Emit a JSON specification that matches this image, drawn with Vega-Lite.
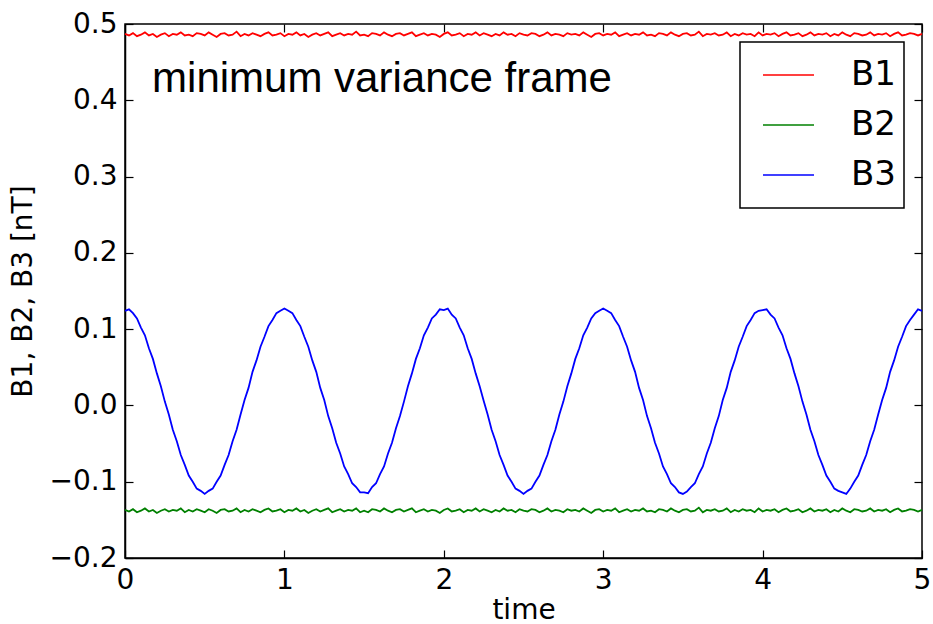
{
"$schema": "https://vega.github.io/schema/vega-lite/v6.json",
"width": 797, "height": 534,
"autosize": {"type": "none"},
"padding": {"left": 125, "top": 24, "right": 11, "bottom": 66},
"background": "white",
"config": {
  "view": {"stroke": "black", "strokeWidth": 1.5},
  "axis": {"grid": false, "domainColor": "black", "domainWidth": 1.5, "tickColor": "black", "tickSize": -8, "tickWidth": 1.2,
    "labelFont": "DejaVu Sans", "labelFontSize": 28, "labelColor": "black", "labelFlush": false, "labelOverlap": false,
    "titleFont": "DejaVu Sans", "titleFontSize": 28, "titleFontWeight": "normal", "titleColor": "black"},
  "legend": {"strokeColor": "black", "strokeWidth": 1.5, "fillColor": "white", "padding": 8, "cornerRadius": 0,
    "symbolType": "stroke", "symbolSize": 2600, "symbolStrokeWidth": 1.5, "symbolOffset": 14, "clipHeight": 50, "labelFont": "DejaVu Sans", "labelFontSize": 34,
    "labelColor": "black", "labelOffset": 36, "rowPadding": 0, "orient": "top-right", "offset": 18}
},
"layer": [
{
  "data": {"values": [
{"t":0,"B1":0.487,"B2":-0.137,"B3":0.124},
{"t":0.025,"B1":0.485,"B2":-0.139,"B3":0.126},
{"t":0.05,"B1":0.488,"B2":-0.136,"B3":0.121},
{"t":0.075,"B1":0.484,"B2":-0.140,"B3":0.114},
{"t":0.1,"B1":0.486,"B2":-0.138,"B3":0.102},
{"t":0.125,"B1":0.489,"B2":-0.135,"B3":0.092},
{"t":0.15,"B1":0.485,"B2":-0.139,"B3":0.075},
{"t":0.175,"B1":0.487,"B2":-0.137,"B3":0.061},
{"t":0.2,"B1":0.483,"B2":-0.141,"B3":0.042},
{"t":0.225,"B1":0.486,"B2":-0.138,"B3":0.025},
{"t":0.25,"B1":0.488,"B2":-0.136,"B3":0.005},
{"t":0.275,"B1":0.484,"B2":-0.139,"B3":-0.012},
{"t":0.3,"B1":0.487,"B2":-0.137,"B3":-0.032},
{"t":0.325,"B1":0.486,"B2":-0.138,"B3":-0.047},
{"t":0.35,"B1":0.489,"B2":-0.135,"B3":-0.065},
{"t":0.375,"B1":0.485,"B2":-0.140,"B3":-0.078},
{"t":0.4,"B1":0.486,"B2":-0.137,"B3":-0.092},
{"t":0.425,"B1":0.484,"B2":-0.139,"B3":-0.100},
{"t":0.45,"B1":0.488,"B2":-0.136,"B3":-0.109},
{"t":0.475,"B1":0.487,"B2":-0.138,"B3":-0.112},
{"t":0.5,"B1":0.485,"B2":-0.140,"B3":-0.116},
{"t":0.525,"B1":0.489,"B2":-0.136,"B3":-0.112},
{"t":0.55,"B1":0.486,"B2":-0.138,"B3":-0.109},
{"t":0.575,"B1":0.483,"B2":-0.141,"B3":-0.100},
{"t":0.6,"B1":0.487,"B2":-0.137,"B3":-0.092},
{"t":0.625,"B1":0.488,"B2":-0.136,"B3":-0.078},
{"t":0.65,"B1":0.485,"B2":-0.139,"B3":-0.065},
{"t":0.675,"B1":0.486,"B2":-0.138,"B3":-0.047},
{"t":0.7,"B1":0.490,"B2":-0.135,"B3":-0.032},
{"t":0.725,"B1":0.484,"B2":-0.140,"B3":-0.012},
{"t":0.75,"B1":0.487,"B2":-0.137,"B3":0.007},
{"t":0.775,"B1":0.485,"B2":-0.139,"B3":0.023},
{"t":0.8,"B1":0.488,"B2":-0.136,"B3":0.044},
{"t":0.825,"B1":0.486,"B2":-0.138,"B3":0.059},
{"t":0.85,"B1":0.484,"B2":-0.140,"B3":0.077},
{"t":0.875,"B1":0.487,"B2":-0.137,"B3":0.090},
{"t":0.9,"B1":0.489,"B2":-0.135,"B3":0.104},
{"t":0.925,"B1":0.485,"B2":-0.139,"B3":0.112},
{"t":0.95,"B1":0.486,"B2":-0.138,"B3":0.121},
{"t":0.975,"B1":0.488,"B2":-0.136,"B3":0.124},
{"t":1,"B1":0.484,"B2":-0.140,"B3":0.127},
{"t":1.025,"B1":0.487,"B2":-0.137,"B3":0.124},
{"t":1.05,"B1":0.486,"B2":-0.138,"B3":0.121},
{"t":1.075,"B1":0.489,"B2":-0.135,"B3":0.112},
{"t":1.1,"B1":0.485,"B2":-0.139,"B3":0.104},
{"t":1.125,"B1":0.487,"B2":-0.137,"B3":0.090},
{"t":1.15,"B1":0.483,"B2":-0.141,"B3":0.077},
{"t":1.175,"B1":0.486,"B2":-0.138,"B3":0.059},
{"t":1.2,"B1":0.488,"B2":-0.136,"B3":0.044},
{"t":1.225,"B1":0.485,"B2":-0.139,"B3":0.023},
{"t":1.25,"B1":0.487,"B2":-0.137,"B3":0.007},
{"t":1.275,"B1":0.489,"B2":-0.135,"B3":-0.014},
{"t":1.3,"B1":0.484,"B2":-0.140,"B3":-0.030},
{"t":1.325,"B1":0.486,"B2":-0.138,"B3":-0.049},
{"t":1.35,"B1":0.488,"B2":-0.136,"B3":-0.063},
{"t":1.375,"B1":0.485,"B2":-0.139,"B3":-0.080},
{"t":1.4,"B1":0.487,"B2":-0.137,"B3":-0.090},
{"t":1.425,"B1":0.486,"B2":-0.138,"B3":-0.102},
{"t":1.45,"B1":0.490,"B2":-0.135,"B3":-0.107},
{"t":1.475,"B1":0.485,"B2":-0.140,"B3":-0.114},
{"t":1.5,"B1":0.486,"B2":-0.138,"B3":-0.114},
{"t":1.525,"B1":0.484,"B2":-0.140,"B3":-0.115},
{"t":1.55,"B1":0.488,"B2":-0.136,"B3":-0.107},
{"t":1.575,"B1":0.487,"B2":-0.137,"B3":-0.102},
{"t":1.6,"B1":0.485,"B2":-0.139,"B3":-0.090},
{"t":1.625,"B1":0.489,"B2":-0.135,"B3":-0.080},
{"t":1.65,"B1":0.486,"B2":-0.138,"B3":-0.063},
{"t":1.675,"B1":0.484,"B2":-0.140,"B3":-0.049},
{"t":1.7,"B1":0.487,"B2":-0.137,"B3":-0.030},
{"t":1.725,"B1":0.488,"B2":-0.136,"B3":-0.014},
{"t":1.75,"B1":0.485,"B2":-0.139,"B3":0.005},
{"t":1.775,"B1":0.487,"B2":-0.137,"B3":0.025},
{"t":1.8,"B1":0.489,"B2":-0.135,"B3":0.042},
{"t":1.825,"B1":0.484,"B2":-0.140,"B3":0.061},
{"t":1.85,"B1":0.486,"B2":-0.138,"B3":0.075},
{"t":1.875,"B1":0.488,"B2":-0.136,"B3":0.092},
{"t":1.9,"B1":0.485,"B2":-0.139,"B3":0.102},
{"t":1.925,"B1":0.487,"B2":-0.137,"B3":0.114},
{"t":1.95,"B1":0.486,"B2":-0.138,"B3":0.119},
{"t":1.975,"B1":0.483,"B2":-0.141,"B3":0.126},
{"t":2,"B1":0.487,"B2":-0.137,"B3":0.125},
{"t":2.025,"B1":0.489,"B2":-0.135,"B3":0.127},
{"t":2.05,"B1":0.485,"B2":-0.139,"B3":0.119},
{"t":2.075,"B1":0.486,"B2":-0.138,"B3":0.114},
{"t":2.1,"B1":0.488,"B2":-0.136,"B3":0.102},
{"t":2.125,"B1":0.484,"B2":-0.140,"B3":0.092},
{"t":2.15,"B1":0.487,"B2":-0.137,"B3":0.075},
{"t":2.175,"B1":0.486,"B2":-0.138,"B3":0.061},
{"t":2.2,"B1":0.489,"B2":-0.135,"B3":0.042},
{"t":2.225,"B1":0.485,"B2":-0.139,"B3":0.025},
{"t":2.25,"B1":0.488,"B2":-0.136,"B3":0.006},
{"t":2.275,"B1":0.486,"B2":-0.138,"B3":-0.012},
{"t":2.3,"B1":0.484,"B2":-0.140,"B3":-0.032},
{"t":2.325,"B1":0.487,"B2":-0.137,"B3":-0.047},
{"t":2.35,"B1":0.485,"B2":-0.139,"B3":-0.065},
{"t":2.375,"B1":0.489,"B2":-0.135,"B3":-0.078},
{"t":2.4,"B1":0.486,"B2":-0.138,"B3":-0.092},
{"t":2.425,"B1":0.487,"B2":-0.137,"B3":-0.100},
{"t":2.45,"B1":0.484,"B2":-0.140,"B3":-0.109},
{"t":2.475,"B1":0.488,"B2":-0.136,"B3":-0.112},
{"t":2.5,"B1":0.486,"B2":-0.138,"B3":-0.116},
{"t":2.525,"B1":0.485,"B2":-0.139,"B3":-0.112},
{"t":2.55,"B1":0.488,"B2":-0.136,"B3":-0.109},
{"t":2.575,"B1":0.487,"B2":-0.137,"B3":-0.100},
{"t":2.6,"B1":0.484,"B2":-0.140,"B3":-0.092},
{"t":2.625,"B1":0.486,"B2":-0.138,"B3":-0.078},
{"t":2.65,"B1":0.489,"B2":-0.135,"B3":-0.065},
{"t":2.675,"B1":0.485,"B2":-0.139,"B3":-0.047},
{"t":2.7,"B1":0.487,"B2":-0.137,"B3":-0.032},
{"t":2.725,"B1":0.486,"B2":-0.138,"B3":-0.012},
{"t":2.75,"B1":0.484,"B2":-0.140,"B3":0.005},
{"t":2.775,"B1":0.488,"B2":-0.136,"B3":0.025},
{"t":2.8,"B1":0.486,"B2":-0.138,"B3":0.042},
{"t":2.825,"B1":0.487,"B2":-0.137,"B3":0.061},
{"t":2.85,"B1":0.485,"B2":-0.139,"B3":0.075},
{"t":2.875,"B1":0.489,"B2":-0.135,"B3":0.092},
{"t":2.9,"B1":0.486,"B2":-0.138,"B3":0.102},
{"t":2.925,"B1":0.483,"B2":-0.141,"B3":0.114},
{"t":2.95,"B1":0.487,"B2":-0.137,"B3":0.121},
{"t":2.975,"B1":0.488,"B2":-0.136,"B3":0.124},
{"t":3,"B1":0.485,"B2":-0.139,"B3":0.127},
{"t":3.025,"B1":0.487,"B2":-0.137,"B3":0.124},
{"t":3.05,"B1":0.486,"B2":-0.138,"B3":0.121},
{"t":3.075,"B1":0.489,"B2":-0.135,"B3":0.112},
{"t":3.1,"B1":0.484,"B2":-0.140,"B3":0.104},
{"t":3.125,"B1":0.486,"B2":-0.138,"B3":0.090},
{"t":3.15,"B1":0.488,"B2":-0.136,"B3":0.077},
{"t":3.175,"B1":0.485,"B2":-0.139,"B3":0.059},
{"t":3.2,"B1":0.487,"B2":-0.137,"B3":0.044},
{"t":3.225,"B1":0.486,"B2":-0.138,"B3":0.023},
{"t":3.25,"B1":0.489,"B2":-0.135,"B3":0.007},
{"t":3.275,"B1":0.485,"B2":-0.139,"B3":-0.014},
{"t":3.3,"B1":0.486,"B2":-0.138,"B3":-0.030},
{"t":3.325,"B1":0.484,"B2":-0.140,"B3":-0.049},
{"t":3.35,"B1":0.488,"B2":-0.136,"B3":-0.063},
{"t":3.375,"B1":0.487,"B2":-0.137,"B3":-0.080},
{"t":3.4,"B1":0.485,"B2":-0.139,"B3":-0.090},
{"t":3.425,"B1":0.489,"B2":-0.135,"B3":-0.102},
{"t":3.45,"B1":0.486,"B2":-0.138,"B3":-0.107},
{"t":3.475,"B1":0.484,"B2":-0.140,"B3":-0.114},
{"t":3.5,"B1":0.487,"B2":-0.137,"B3":-0.116},
{"t":3.525,"B1":0.488,"B2":-0.136,"B3":-0.113},
{"t":3.55,"B1":0.485,"B2":-0.139,"B3":-0.107},
{"t":3.575,"B1":0.486,"B2":-0.138,"B3":-0.102},
{"t":3.6,"B1":0.490,"B2":-0.134,"B3":-0.090},
{"t":3.625,"B1":0.484,"B2":-0.140,"B3":-0.080},
{"t":3.65,"B1":0.487,"B2":-0.137,"B3":-0.063},
{"t":3.675,"B1":0.486,"B2":-0.138,"B3":-0.049},
{"t":3.7,"B1":0.488,"B2":-0.136,"B3":-0.030},
{"t":3.725,"B1":0.485,"B2":-0.139,"B3":-0.014},
{"t":3.75,"B1":0.486,"B2":-0.138,"B3":0.007},
{"t":3.775,"B1":0.489,"B2":-0.135,"B3":0.023},
{"t":3.8,"B1":0.484,"B2":-0.140,"B3":0.044},
{"t":3.825,"B1":0.487,"B2":-0.137,"B3":0.059},
{"t":3.85,"B1":0.485,"B2":-0.139,"B3":0.077},
{"t":3.875,"B1":0.488,"B2":-0.136,"B3":0.090},
{"t":3.9,"B1":0.486,"B2":-0.138,"B3":0.104},
{"t":3.925,"B1":0.487,"B2":-0.137,"B3":0.112},
{"t":3.95,"B1":0.484,"B2":-0.140,"B3":0.121},
{"t":3.975,"B1":0.489,"B2":-0.135,"B3":0.124},
{"t":4,"B1":0.485,"B2":-0.139,"B3":0.125},
{"t":4.025,"B1":0.487,"B2":-0.137,"B3":0.126},
{"t":4.05,"B1":0.486,"B2":-0.138,"B3":0.119},
{"t":4.075,"B1":0.488,"B2":-0.136,"B3":0.114},
{"t":4.1,"B1":0.484,"B2":-0.140,"B3":0.102},
{"t":4.125,"B1":0.487,"B2":-0.137,"B3":0.092},
{"t":4.15,"B1":0.489,"B2":-0.135,"B3":0.075},
{"t":4.175,"B1":0.485,"B2":-0.139,"B3":0.061},
{"t":4.2,"B1":0.486,"B2":-0.138,"B3":0.042},
{"t":4.225,"B1":0.488,"B2":-0.136,"B3":0.025},
{"t":4.25,"B1":0.484,"B2":-0.140,"B3":0.005},
{"t":4.275,"B1":0.486,"B2":-0.138,"B3":-0.012},
{"t":4.3,"B1":0.489,"B2":-0.135,"B3":-0.032},
{"t":4.325,"B1":0.485,"B2":-0.139,"B3":-0.047},
{"t":4.35,"B1":0.487,"B2":-0.137,"B3":-0.065},
{"t":4.375,"B1":0.486,"B2":-0.138,"B3":-0.078},
{"t":4.4,"B1":0.488,"B2":-0.136,"B3":-0.092},
{"t":4.425,"B1":0.484,"B2":-0.140,"B3":-0.100},
{"t":4.45,"B1":0.487,"B2":-0.137,"B3":-0.109},
{"t":4.475,"B1":0.485,"B2":-0.139,"B3":-0.112},
{"t":4.5,"B1":0.489,"B2":-0.135,"B3":-0.114},
{"t":4.525,"B1":0.486,"B2":-0.138,"B3":-0.116},
{"t":4.55,"B1":0.484,"B2":-0.140,"B3":-0.109},
{"t":4.575,"B1":0.488,"B2":-0.136,"B3":-0.100},
{"t":4.6,"B1":0.487,"B2":-0.137,"B3":-0.092},
{"t":4.625,"B1":0.485,"B2":-0.139,"B3":-0.078},
{"t":4.65,"B1":0.486,"B2":-0.138,"B3":-0.065},
{"t":4.675,"B1":0.489,"B2":-0.135,"B3":-0.047},
{"t":4.7,"B1":0.485,"B2":-0.139,"B3":-0.032},
{"t":4.725,"B1":0.487,"B2":-0.137,"B3":-0.012},
{"t":4.75,"B1":0.486,"B2":-0.138,"B3":0.007},
{"t":4.775,"B1":0.488,"B2":-0.136,"B3":0.023},
{"t":4.8,"B1":0.484,"B2":-0.140,"B3":0.044},
{"t":4.825,"B1":0.487,"B2":-0.137,"B3":0.059},
{"t":4.85,"B1":0.489,"B2":-0.135,"B3":0.077},
{"t":4.875,"B1":0.485,"B2":-0.139,"B3":0.090},
{"t":4.9,"B1":0.486,"B2":-0.138,"B3":0.104},
{"t":4.925,"B1":0.488,"B2":-0.136,"B3":0.112},
{"t":4.95,"B1":0.487,"B2":-0.137,"B3":0.119},
{"t":4.975,"B1":0.485,"B2":-0.139,"B3":0.126},
{"t":5,"B1":0.487,"B2":-0.137,"B3":0.124}
  ]},
  "transform": [{"fold": ["B1", "B2", "B3"], "as": ["series", "v"]}],
  "mark": {"type": "line", "strokeWidth": 1.8},
  "encoding": {
    "x": {"field": "t", "type": "quantitative", "scale": {"domain": [0, 5], "nice": false, "zero": false},
      "axis": {"orient": "bottom", "title": "time", "values": [0, 1, 2, 3, 4, 5], "format": "d", "labelPadding": 16, "titlePadding": 2}},
    "y": {"field": "v", "type": "quantitative", "scale": {"domain": [-0.2, 0.5], "nice": false, "zero": false},
      "axis": {"orient": "left", "title": "B1, B2, B3 [nT]", "values": [-0.2, -0.1, 0, 0.1, 0.2, 0.3, 0.4, 0.5], "format": ".1f", "labelPadding": 16, "titlePadding": 12}},
    "color": {"field": "series", "type": "nominal", "scale": {"domain": ["B1", "B2", "B3"], "range": ["#ff0000", "#008000", "#0000ff"]}, "legend": {"title": null}}
  }
},
{
  "data": {"values": [{"t": 0.17, "v": 0.411, "label": "minimum variance frame"}]},
  "mark": {"type": "text", "align": "left", "baseline": "alphabetic", "font": "Liberation Sans", "fontSize": 42, "color": "black"},
  "encoding": {
    "x": {"field": "t", "type": "quantitative", "axis": {"orient": "top", "labels": false, "title": null, "values": [0, 1, 2, 3, 4, 5], "domain": false}},
    "y": {"field": "v", "type": "quantitative", "axis": {"orient": "right", "labels": false, "title": null, "values": [-0.2, -0.1, 0, 0.1, 0.2, 0.3, 0.4, 0.5], "domain": false}},
    "text": {"field": "label"}
  }
}
],
"resolve": {"axis": {"x": "independent", "y": "independent"}}
}
